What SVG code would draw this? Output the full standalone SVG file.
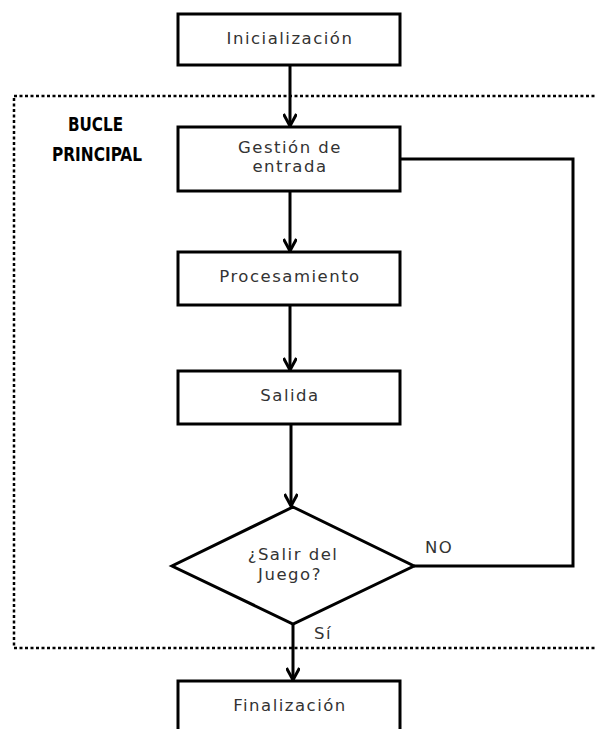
<svg xmlns="http://www.w3.org/2000/svg" width="597" height="729" viewBox="0 0 597 729">
  <defs>
    <style>
      .box { fill: #ffffff; stroke: #000000; stroke-width: 3; }
      .lbl { font-family: "DejaVu Sans", "Liberation Sans", sans-serif; font-size: 16.5px; fill: #333333; text-anchor: middle; letter-spacing: 1.5px; }
      .tag { font-family: "DejaVu Sans", "Liberation Sans", sans-serif; font-size: 16.5px; fill: #333333; letter-spacing: 1.5px; }
      .title { font-family: "DejaVu Sans Condensed", "Liberation Sans Narrow", "Liberation Sans", sans-serif; font-weight: bold; font-size: 19px; fill: #000000; }
      .wire { fill: none; stroke: #000000; stroke-width: 3; }
      .loop { fill: none; stroke: #000000; stroke-width: 2.5; stroke-dasharray: 3 2.5; }
    </style>
    <marker id="arrow" markerWidth="16" markerHeight="14" refX="13" refY="7" orient="auto" markerUnits="userSpaceOnUse">
      <path d="M1,0.5 L13,7 L1,13.5" fill="none" stroke="#000000" stroke-width="3"/>
    </marker>
  </defs>

  <!-- main loop boundary -->
  <rect class="loop" x="14" y="96" width="600" height="552"/>
  <g id="loop-title">
    <text class="title" x="68" y="131" textLength="55" lengthAdjust="spacingAndGlyphs">BUCLE</text>
    <text class="title" x="52" y="161" textLength="90" lengthAdjust="spacingAndGlyphs">PRINCIPAL</text>
  </g>

  <g id="connectors">
    <line class="wire" x1="290" y1="65" x2="290" y2="126" marker-end="url(#arrow)"/>
    <line class="wire" x1="290" y1="191" x2="290" y2="251" marker-end="url(#arrow)"/>
    <line class="wire" x1="290" y1="305" x2="290" y2="370" marker-end="url(#arrow)"/>
    <line class="wire" x1="291" y1="424" x2="291" y2="506" marker-end="url(#arrow)"/>
    <polyline class="wire" points="414,566 573,566 573,159 400,159"/>
    <line class="wire" x1="293" y1="624" x2="293" y2="680" marker-end="url(#arrow)"/>
    <text class="tag" x="425" y="553">NO</text>
    <text class="tag" x="314" y="639">Sí</text>
  </g>

  <g id="inicializacion">
    <rect class="box" x="178" y="14" width="222" height="51"/>
    <text class="lbl" x="290" y="44">Inicialización</text>
  </g>

  <g id="gestion-entrada">
    <rect class="box" x="178" y="127" width="222" height="64"/>
    <text class="lbl" x="290" y="153">Gestión de</text>
    <text class="lbl" x="290" y="172">entrada</text>
  </g>

  <g id="procesamiento">
    <rect class="box" x="178" y="252" width="222" height="53"/>
    <text class="lbl" x="290" y="282">Procesamiento</text>
  </g>

  <g id="salida">
    <rect class="box" x="178" y="371" width="222" height="53"/>
    <text class="lbl" x="290" y="401">Salida</text>
  </g>

  <g id="salir-juego">
    <polygon class="box" points="293,507 414,566 293,624 172,566" stroke-width="2.5"/>
    <text class="lbl" x="293" y="560">¿Salir del</text>
    <text class="lbl" x="290" y="580">Juego?</text>
  </g>

  <g id="finalizacion">
    <rect class="box" x="178" y="681" width="222" height="60"/>
    <text class="lbl" x="290" y="711">Finalización</text>
  </g>
</svg>
